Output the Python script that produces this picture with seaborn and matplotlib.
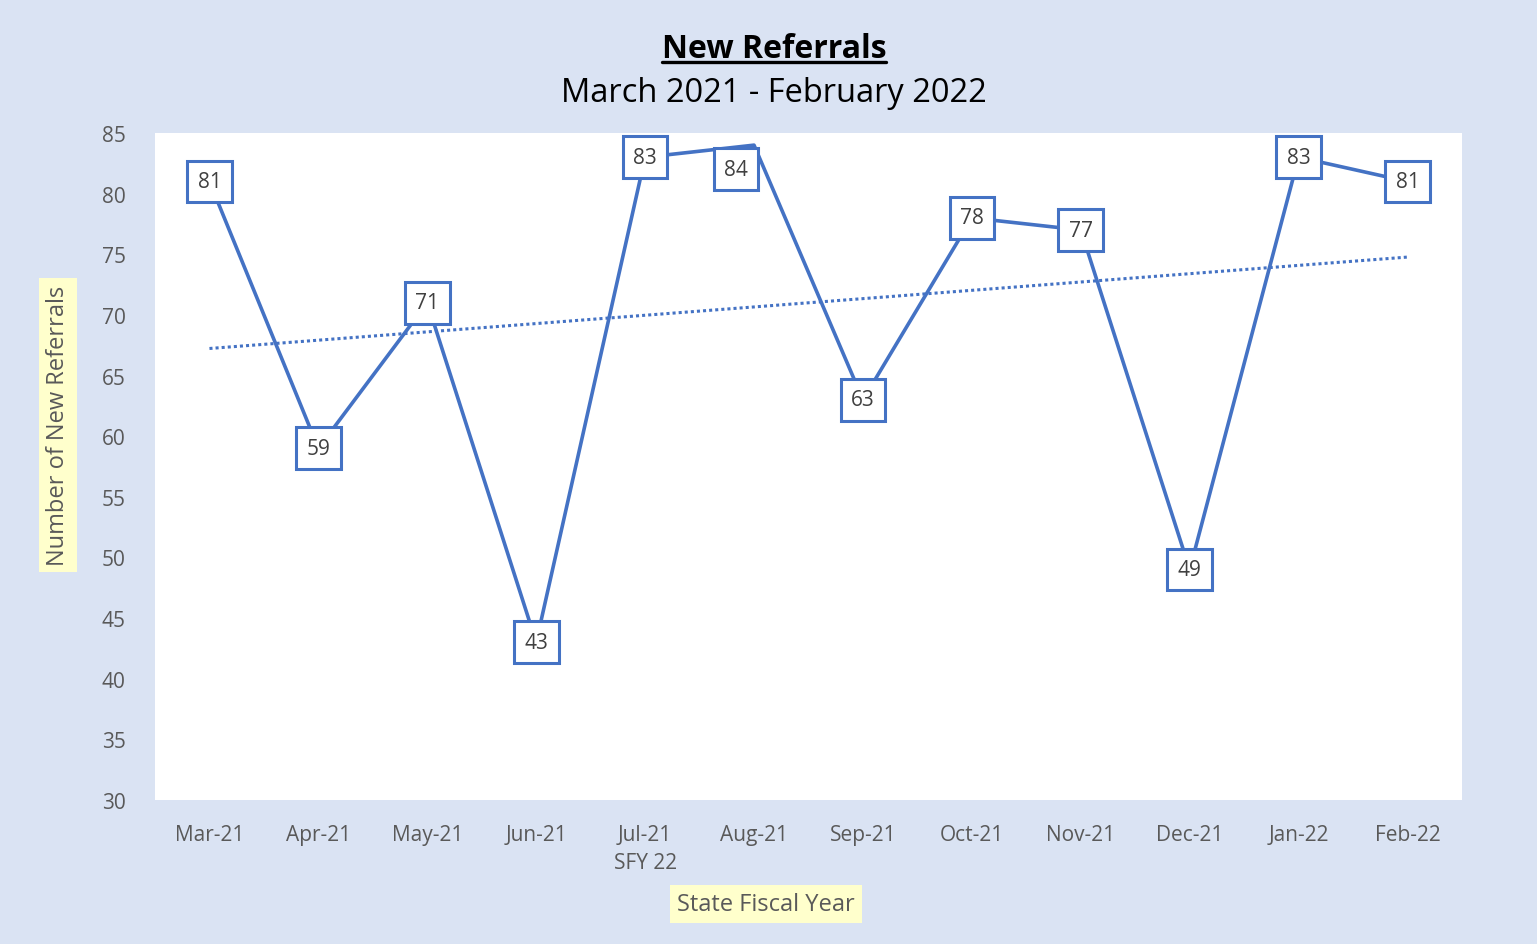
import numpy as np
import pandas as pd
import matplotlib
matplotlib.use("Agg")
import matplotlib.pyplot as plt
import seaborn as sns

months = ["Mar-21", "Apr-21", "May-21", "Jun-21", "Jul-21\nSFY 22", "Aug-21",
          "Sep-21", "Oct-21", "Nov-21", "Dec-21", "Jan-22", "Feb-22"]
referrals = [81, 59, 71, 43, 83, 84, 63, 78, 77, 49, 83, 81]
y_ticks = [30, 35, 40, 45, 50, 55, 60, 65, 70, 75, 80, 85]

title = "New Referrals"
subtitle = "March 2021 - February 2022"
x_label = "State Fiscal Year"
y_label = "Number of New Referrals"

df = pd.DataFrame({"idx": np.arange(len(months)), "month": months, "value": referrals})

sns.set_theme(style="white")
plt.rcParams["font.family"] = ["Open Sans", "DejaVu Sans"]

BLUE = "#4472C4"
GRAY = "#595959"
BG = "#DAE3F3"
YEL = "#FFFFCC"

fig = plt.figure(figsize=(15.37, 9.45), dpi=100, facecolor=BG)
ax = fig.add_axes([155/1537, 1-801/945, (1462-155)/1537, (801-134)/945])
ax.set_facecolor("white")

sns.lineplot(data=df, x="idx", y="value", ax=ax, color=BLUE, linewidth=2.6, zorder=3)
sns.regplot(data=df, x="idx", y="value", ax=ax, scatter=False, ci=None,
            line_kws=dict(color=BLUE, linestyle=(0, (1, 1)), linewidth=2.2,
                          dash_capstyle="butt", zorder=2))

# data labels
offsets = {5: (-18, -24)}
for i, v in enumerate(referrals):
    dx, dy = offsets.get(i, (0, 0))
    ax.annotate(str(v), (i, v), xytext=(dx * 0.72, dy * 0.72), textcoords="offset points",
                ha="center", va="center", fontsize=15, color="#404040", zorder=5,
                bbox=dict(boxstyle="square,pad=0.5", fc="white", ec=BLUE, lw=2.2))

ax.set_xlim(-0.5, len(months) - 0.5)
ax.set_ylim(30, 85)
ax.set_xticks(range(len(months)))
ax.set_xticklabels(months, fontsize=15, color=GRAY, linespacing=1.45)
ax.set_yticks(y_ticks)
ax.set_yticklabels([str(t) for t in y_ticks], fontsize=15, color=GRAY)
ax.tick_params(axis="both", length=0)
ax.tick_params(axis="x", pad=17)
ax.tick_params(axis="y", pad=21)
for s in ax.spines.values():
    s.set_visible(False)
ax.set_xlabel("")
ax.set_ylabel("")

t = fig.text(774/1537, 1-49/945, title, ha="center", va="center", fontsize=23,
             fontweight="bold", color="black")
fig.text(774/1537, 1-94/945, subtitle, ha="center", va="center", fontsize=23.5, color="black")

# underline title
fig.canvas.draw()
bb = t.get_window_extent()
fig.add_artist(plt.Line2D([bb.x0/1537, bb.x1/1537], [(bb.y0+3)/945, (bb.y0+3)/945],
                          color="black", lw=2.4, transform=fig.transFigure))

fig.text(766/1537, 1-905/945, x_label, ha="center", va="center", fontsize=17, color=GRAY,
         bbox=dict(boxstyle="square,pad=0.3", fc=YEL, ec="none"))
fig.text(58/1537, 1-426/945, y_label, ha="center", va="center", fontsize=17, color=GRAY,
         rotation=90, bbox=dict(boxstyle="square,pad=0.3", fc=YEL, ec="none"))

fig.savefig("out.png", dpi=100, facecolor=BG)
